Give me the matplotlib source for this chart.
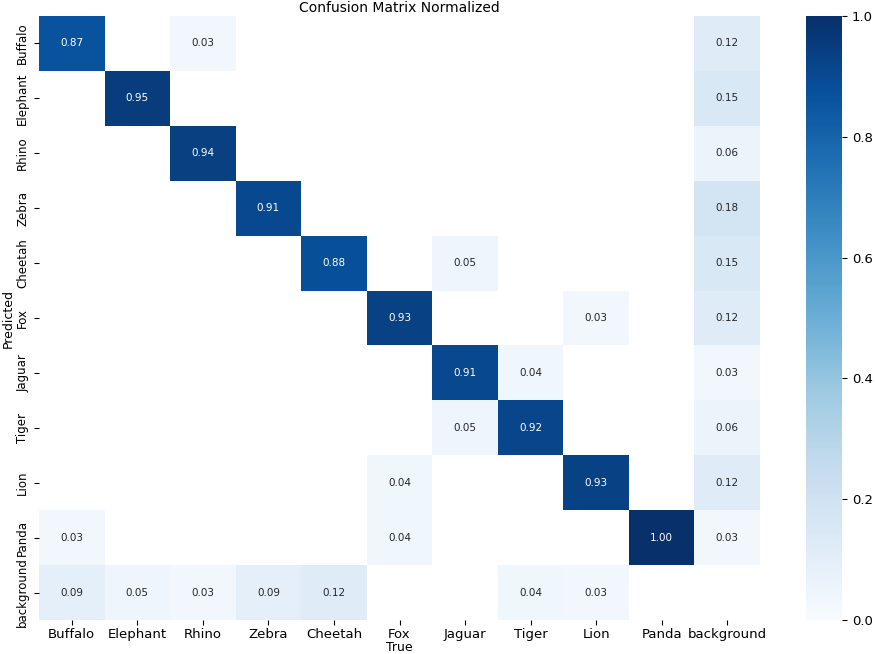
import numpy as np
import matplotlib
matplotlib.use('Agg')
import matplotlib.pyplot as plt
import seaborn as sn

names = ['Buffalo', 'Elephant', 'Rhino', 'Zebra', 'Cheetah', 'Fox',
         'Jaguar', 'Tiger', 'Lion', 'Panda', 'background']

# rows = predicted, cols = true (0 = empty cell)
buffalo    = [0.87, 0,    0.03, 0,    0,    0,    0,    0,    0,    0,    0.12]
elephant   = [0,    0.95, 0,    0,    0,    0,    0,    0,    0,    0,    0.15]
rhino      = [0,    0,    0.94, 0,    0,    0,    0,    0,    0,    0,    0.06]
zebra      = [0,    0,    0,    0.91, 0,    0,    0,    0,    0,    0,    0.18]
cheetah    = [0,    0,    0,    0,    0.88, 0,    0.05, 0,    0,    0,    0.15]
fox        = [0,    0,    0,    0,    0,    0.93, 0,    0,    0.03, 0,    0.12]
jaguar     = [0,    0,    0,    0,    0,    0,    0.91, 0.04, 0,    0,    0.03]
tiger      = [0,    0,    0,    0,    0,    0,    0.05, 0.92, 0,    0,    0.06]
lion       = [0,    0,    0,    0,    0,    0.04, 0,    0,    0.93, 0,    0.12]
panda      = [0.03, 0,    0,    0,    0,    0.04, 0,    0,    0,    1.00, 0.03]
background = [0.09, 0.05, 0.03, 0.09, 0.12, 0,    0,    0.04, 0.03, 0,    0]

array = np.array([buffalo, elephant, rhino, zebra, cheetah, fox,
                  jaguar, tiger, lion, panda, background])
array[array < 0.005] = np.nan

W, H = 875, 654
fig = plt.figure(figsize=(W / 100, H / 100), dpi=100)
ax = fig.add_axes([39 / W, 1 - 620 / H, 721 / W, 604 / H])
cax = fig.add_axes([806 / W, 1 - 620 / H, 36 / W, 604 / H])

sn.heatmap(array, ax=ax, cbar_ax=cax, annot=True, annot_kws={"size": 7.5},
           cmap='Blues', fmt='.2f', vmin=0.0, vmax=1.0,
           xticklabels=names, yticklabels=names).set_facecolor((1, 1, 1))

ax.set_title('Confusion Matrix Normalized', fontsize=10, pad=3)
ax.set_xlabel('True', fontsize=9, labelpad=0)
ax.set_ylabel('Predicted', fontsize=9, labelpad=1)
ax.tick_params(axis='x', labelsize=9.5, rotation=0, pad=2)
ax.tick_params(axis='y', labelsize=8.5, rotation=90)
for t in ax.get_yticklabels():
    t.set_va('center')
cax.tick_params(labelsize=9.5)

fig.savefig('out.png', dpi=100)
